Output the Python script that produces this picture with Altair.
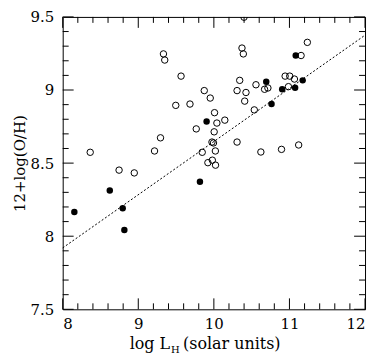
import altair as alt
import pandas as pd

# open circles
open_x = [8.364, 8.746, 8.947, 9.215, 9.294, 9.333, 9.350, 9.496, 9.566, 9.684,
          9.767, 9.846, 9.873, 9.921, 9.952, 9.975, 9.995, 9.980, 10.004, 10.009,
          10.022, 10.020, 10.040, 10.145, 10.307, 10.307, 10.342, 10.372, 10.390, 10.399,
          10.408, 10.425, 10.535, 10.557, 10.622, 10.671, 10.715, 10.895, 10.943, 10.987,
          11.004, 11.066, 11.122, 11.154, 11.237]
open_y = [8.574, 8.452, 8.433, 8.583, 8.673, 9.247, 9.205, 8.895, 9.095, 8.904,
          8.734, 8.574, 8.996, 8.503, 8.945, 8.644, 8.638, 8.520, 8.714, 8.845,
          8.486, 8.583, 8.774, 8.794, 8.996, 8.644, 9.066, 9.287, 9.247, 9.498,
          8.924, 8.983, 8.864, 9.036, 8.576, 9.005, 9.014, 8.594, 9.095, 9.023,
          9.095, 9.075, 8.624, 9.236, 9.326]

# filled circles
filled_x = [8.154, 8.623, 8.794, 8.816, 9.816, 9.904, 10.693, 10.763, 10.904, 11.075, 11.083, 11.175]
filled_y = [8.165, 8.312, 8.191, 8.043, 8.373, 8.785, 9.056, 8.904, 9.005, 9.016, 9.236, 9.066]

# dashed fit line
fit_x = [8.0, 12.0]
fit_y = [7.92, 9.375]

# ticks
x_major = [8, 9, 10, 11, 12]
x_minor = [8.2, 8.4, 8.6, 8.8, 9.2, 9.4, 9.6, 9.8, 10.2, 10.4, 10.6, 10.8, 11.2, 11.4, 11.6, 11.8]
y_major = [7.5, 8, 8.5, 9, 9.5]
y_minor = [7.6, 7.7, 7.8, 7.9, 8.1, 8.2, 8.3, 8.4, 8.6, 8.7, 8.8, 8.9, 9.1, 9.2, 9.3, 9.4]

W, H = 304, 294
FONT = "DejaVu Serif"
MAJ, MIN = 11, 6

xs = alt.Scale(domain=[8, 12], nice=False, zero=False)
ys = alt.Scale(domain=[7.5, 9.5], nice=False, zero=False)

x_axis = alt.Axis(values=x_major, ticks=False, tickSize=0, domain=False, grid=False,
                  labelFont=FONT, labelFontSize=15, labelColor="black", labelPadding=7,
                  labelExpr="toString(datum.value)", title=None)
y_axis = alt.Axis(values=y_major, ticks=False, tickSize=0, domain=False, grid=False,
                  labelFont=FONT, labelFontSize=15, labelColor="black", labelPadding=9,
                  labelExpr="toString(datum.value)", title="12+log(O/H)",
                  titleFont=FONT, titleFontSize=15, titleFontWeight="normal",
                  titleColor="black", titlePadding=3)

X = alt.X("x:Q", scale=xs, axis=x_axis)
Y = alt.Y("y:Q", scale=ys, axis=y_axis)

df_open = pd.DataFrame({"x": open_x, "y": open_y})
df_fill = pd.DataFrame({"x": filled_x, "y": filled_y})
df_fit = pd.DataFrame({"x": fit_x, "y": fit_y})
df_xt = pd.DataFrame({"x": x_major + x_minor, "len": [MAJ] * len(x_major) + [MIN] * len(x_minor)})
df_yt = pd.DataFrame({"y": y_major + y_minor, "len": [MAJ] * len(y_major) + [MIN] * len(y_minor)})

fit = alt.Chart(df_fit).mark_line(color="black", strokeWidth=1, strokeDash=[2, 2]).encode(x=X, y=Y)
opn = alt.Chart(df_open).mark_point(shape="circle", filled=False, color="black", size=42,
                                    strokeWidth=1, opacity=1, clip=True).encode(x=X, y=Y)
fil = alt.Chart(df_fill).mark_point(shape="circle", filled=True, color="black", size=42,
                                    opacity=1, clip=True).encode(x=X, y=Y)

rule = dict(color="black", strokeWidth=1)
xt_bot = alt.Chart(df_xt).transform_calculate(y0=f"{H}", y1=f"{H} - datum.len").mark_rule(**rule).encode(
    x=X, y=alt.Y("y0:Q", scale=None, axis=None), y2="y1:Q")
xt_top = alt.Chart(df_xt).transform_calculate(y0="0", y1="datum.len").mark_rule(**rule).encode(
    x=X, y=alt.Y("y0:Q", scale=None, axis=None), y2="y1:Q")
yt_left = alt.Chart(df_yt).transform_calculate(x0="0", x1="datum.len").mark_rule(**rule).encode(
    y=Y, x=alt.X("x0:Q", scale=None, axis=None), x2="x1:Q")
yt_right = alt.Chart(df_yt).transform_calculate(x0=f"{W}", x1=f"{W} - datum.len").mark_rule(**rule).encode(
    y=Y, x=alt.X("x0:Q", scale=None, axis=None), x2="x1:Q")

tstyle = dict(font=FONT, color="black", baseline="alphabetic")
t1 = alt.Chart(pd.DataFrame({"t": ["log L"]})).mark_text(align="right", fontSize=16, **tstyle).encode(
    x=alt.value(108), y=alt.value(H + 40), text="t:N")
t2 = alt.Chart(pd.DataFrame({"t": ["H"]})).mark_text(align="left", fontSize=10, **tstyle).encode(
    x=alt.value(109), y=alt.value(H + 44), text="t:N")
t3 = alt.Chart(pd.DataFrame({"t": ["(solar units)"]})).mark_text(align="left", fontSize=16, **tstyle).encode(
    x=alt.value(121), y=alt.value(H + 40), text="t:N")

chart = alt.layer(fit, opn, fil, xt_bot, xt_top, yt_left, yt_right, t1, t2, t3).properties(
    width=W, height=H,
    autosize=alt.AutoSizeParams(type="none"),
    padding={"left": 55, "top": 8, "right": 4, "bottom": 48},
    background="white",
).configure_view(stroke="black", strokeWidth=1)

chart.save("out.html", embed_options={"renderer": "svg", "actions": False})
